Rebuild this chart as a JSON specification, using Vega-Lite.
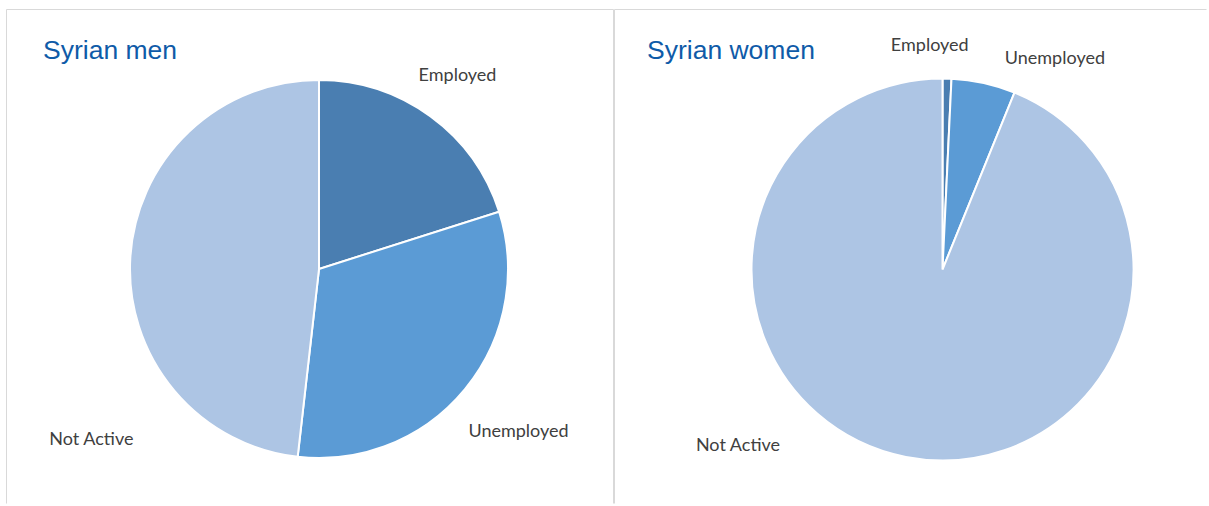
{
  "$schema": "https://vega.github.io/schema/vega-lite/v6.json",
  "background": "white",
  "padding": {"left": 5, "top": 8, "right": 0, "bottom": 0},
  "spacing": -3,
  "hconcat": [
    {
      "width": 607,
      "height": 494,
      "view": {"stroke": "#d9d9d9", "strokeWidth": 1, "fill": "white", "strokeDash": [1101, 607, 494, 0]},
      "title": {"text": "Syrian men", "anchor": "start", "frame": "group", "offset": -55, "dx": 37, "fontSize": 26.5, "font": "Liberation Sans", "fontWeight": "normal", "color": "#0f5ba8"},
      "data": {"values": [
        {"status": "Employed", "share": 20.1, "k": 1},
        {"status": "Unemployed", "share": 31.7, "k": 2},
        {"status": "Not Active", "share": 48.2, "k": 3}
      ]},
      "encoding": {
        "theta": {"field": "share", "type": "quantitative", "stack": true},
        "order": {"field": "k", "type": "quantitative"},
        "color": {"field": "status", "type": "nominal", "scale": {"domain": ["Employed", "Unemployed", "Not Active"], "range": ["#4a7eb1", "#5b9bd5", "#adc5e4"]}, "legend": null}
      },
      "layer": [
        {"mark": {"type": "arc", "outerRadius": 189, "stroke": "white", "strokeWidth": 2, "xOffset": 9.5, "yOffset": 13}},
        {
          "mark": {"type": "text", "font": "Lato", "fontSize": 18, "align": "center", "baseline": "middle", "xOffset": 9.5, "yOffset": 13,
            "radius": {"expr": "datum.status === 'Employed' ? 238 : datum.status === 'Unemployed' ? 257 : 228"},
            "dx": {"expr": "datum.status === 'Employed' ? -2 : datum.status === 'Unemployed' ? 1 : 0"},
            "dy": {"expr": "datum.status === 'Not Active' ? 184 : datum.status === 'Employed' ? -1 : 0"}},
          "encoding": {"text": {"field": "status"}, "color": {"value": "#404040"}}
        }
      ]
    },
    {
      "width": 592,
      "height": 494,
      "view": {"stroke": "#d9d9d9", "strokeWidth": 1, "fill": "white", "strokeDash": [592, 1086, 494, 0]},
      "title": {"text": "Syrian women", "anchor": "start", "frame": "group", "offset": -55, "dx": 33, "fontSize": 26.5, "font": "Liberation Sans", "fontWeight": "normal", "color": "#0f5ba8"},
      "data": {"values": [
        {"status": "Employed", "share": 0.75, "k": 1},
        {"status": "Unemployed", "share": 5.4, "k": 2},
        {"status": "Not Active", "share": 93.85, "k": 3}
      ]},
      "encoding": {
        "theta": {"field": "share", "type": "quantitative", "stack": true},
        "order": {"field": "k", "type": "quantitative"},
        "color": {"field": "status", "type": "nominal", "scale": {"domain": ["Employed", "Unemployed", "Not Active"], "range": ["#4a7eb1", "#5b9bd5", "#adc5e4"]}, "legend": null}
      },
      "layer": [
        {"mark": {"type": "arc", "outerRadius": 191, "stroke": "white", "strokeWidth": 2, "xOffset": 32.5, "yOffset": 13.5}},
        {
          "mark": {"type": "text", "font": "Lato", "fontSize": 18, "align": "center", "baseline": "middle", "xOffset": 32.5, "yOffset": 13.5,
            "radius": {"expr": "datum.status === 'Employed' ? 224 : datum.status === 'Unemployed' ? 225 : 180"},
            "dx": {"expr": "datum.status === 'Employed' ? -18 : datum.status === 'Unemployed' ? 64 : -170"},
            "dy": {"expr": "datum.status === 'Unemployed' ? 9 : 0"}},
          "encoding": {"text": {"field": "status"}, "color": {"value": "#404040"}}
        }
      ]
    }
  ]
}
